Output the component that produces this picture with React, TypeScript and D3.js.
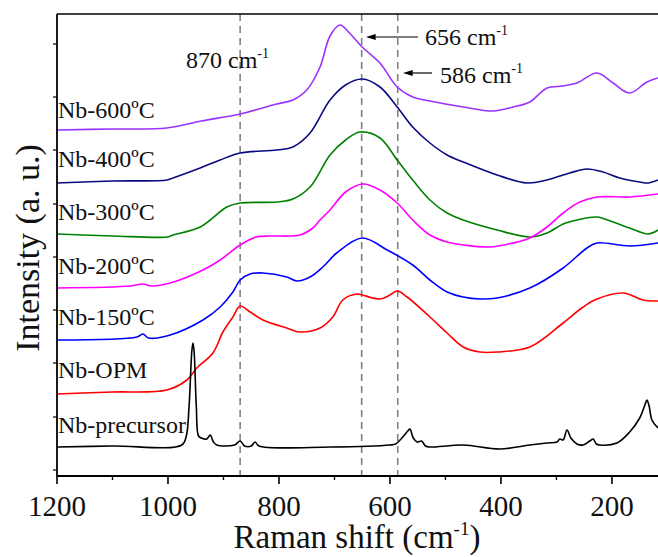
import { useEffect, useRef } from 'react';
import * as d3 from 'd3';

// Raman spectra: [shift (cm-1), intensity (a.u., offset stacked)]
const nb600 = [[1200,346],[1100,347],[1002,348],[940,355],[870,362],[804,372],[775,376],[750,386],[726,409],[708,440],[690,451],[673,443],[650,429],[618,413],[587,389],[559,379],[528,375],[468,369],[414,365],[378,369],[348,374],[317,388],[288,390],[263,393],[227,403],[198,393],[168,383],[137,394],[117,398]];
const nb400 = [[1200,293],[1100,295],[1002,296],[991,298],[942,308],[906,316],[870,323],[804,326],[775,329],[744,343],[708,376],[680,391],[650,397],[618,389],[587,369],[559,349],[528,333],[497,321],[468,314],[407,301],[353,293],[317,296],[276,303],[245,307],[216,304],[186,298],[150,294],[135,293],[117,296]];
const nb300 = [[1200,242],[1100,240],[1002,239],[991,241],[942,249],[894,269],[870,273],[804,274],[775,277],[744,289],[708,321],[680,336],[654,344],[618,338],[587,316],[559,296],[528,276],[497,263],[468,256],[407,246],[348,239],[317,243],[288,252],[263,256],[227,259],[198,254],[168,248],[135,242],[117,246]];
const nb200 = [[1200,188],[1068,190],[1045,192],[1030,190],[996,193],[937,206],[906,216],[870,231],[841,239],[816,240],[762,241],[739,248],[726,256],[708,266],[680,284],[649,292],[618,286],[587,273],[559,256],[528,241],[497,234],[468,231],[420,229],[378,233],[348,238],[317,249],[288,263],[258,274],[227,279],[168,279],[117,282]];
const nb150 = [[1200,136],[1056,139],[1045,142],[1035,138],[996,141],[937,156],[906,169],[883,184],[870,196],[852,202],[829,203],[786,199],[768,195],[744,199],[721,209],[696,223],[650,238],[605,226],[559,211],[528,196],[497,184],[468,179],[438,177],[407,178],[348,188],[288,208],[245,228],[227,233],[168,230],[117,233]];
const nbOPM = [[1200,82],[1100,84],[1002,86],[966,96],[948,108],[919,123],[901,144],[883,159],[870,170],[852,164],[829,156],[786,148],[762,144],[726,148],[703,159],[685,176],[659,182],[650,181],[618,177],[600,181],[587,185],[569,179],[528,159],[497,143],[468,129],[438,124],[407,124],[348,129],[288,153],[252,169],[227,177],[180,183],[144,176],[117,175]];
const nbPrecursor = [[1200,29],[1100,30],[975,31],[967,40],[962,70],[957,125],[955,133],[953,125],[949,70],[945,40],[940,38],[930,37],[924,41],[918,34],[912,31],[880,31],[870,35],[862,30],[850,30],[843,34],[836,30],[708,29],[600,31],[590,32],[577,39],[568,45],[564,47],[558,38],[551,34],[543,35],[536,30],[528,29],[468,31],[402,27],[348,31],[317,33],[299,34],[294,37],[288,36],[281,46],[274,38],[263,32],[252,31],[240,35],[234,37],[228,32],[222,31],[191,33],[168,44],[150,58],[140,72],[137,76],[133,70],[128,56],[117,48]];

const seriesNames = ['Nb-600ºC', 'Nb-400ºC', 'Nb-300ºC', 'Nb-200ºC', 'Nb-150ºC', 'Nb-OPM', 'Nb-precursor'];
const seriesData = [nb600, nb400, nb300, nb200, nb150, nbOPM, nbPrecursor];
const seriesColors = ['#9933ff', '#0a0a80', '#008000', '#ff00ff', '#0000ff', '#ff0000', '#000000'];
// label baselines, in intensity units
const labelLevels = [358, 309, 256, 202, 151, 98, 43];

const xTicks = [1200, 1000, 800, 600, 400, 200];
const xMinorTicks = [1100, 900, 700, 500, 300];
const yTicks = [6, 59, 113, 166, 219, 272, 326, 379, 432];

const markerLines = [870, 651, 586];
const markerLabels = ['870', '656', '586'];

const FONT = '"Liberation Serif", "Times New Roman", serif';

const App = () => {
    const svgRef = useRef(null);

    useEffect(() => {
        if (!svgRef.current) return;
        const width = 658, height = 557;
        const left = 57, top = 14, bottom = 476, right = 658;

        const svg = d3.select(svgRef.current)
            .attr('width', width)
            .attr('height', height);
        svg.selectAll('*').remove();

        const x = d3.scaleLinear().domain([1200, 117]).range([left, right]);
        const y = d3.scaleLinear().domain([0, 462]).range([bottom, top]);

        const defs = svg.append('defs');
        defs.append('clipPath').attr('id', 'plot-clip')
            .append('rect').attr('x', left).attr('y', top)
            .attr('width', right - left).attr('height', bottom - top);
        defs.append('marker')
            .attr('id', 'arrow')
            .attr('viewBox', '0 0 10 10')
            .attr('refX', 0).attr('refY', 5)
            .attr('markerWidth', 10).attr('markerHeight', 10)
            .attr('markerUnits', 'userSpaceOnUse')
            .attr('orient', 'auto-start-reverse')
            .append('path').attr('d', 'M0,2 L10,5 L0,8 Z').attr('fill', '#000');

        // dashed reference lines
        svg.append('g').selectAll('line')
            .data(markerLines)
            .join('line')
            .attr('x1', d => x(d)).attr('x2', d => x(d))
            .attr('y1', top).attr('y2', bottom)
            .attr('stroke', '#808080')
            .attr('stroke-width', 1.6)
            .attr('stroke-dasharray', '7,5');

        // spectra
        const line = d3.line()
            .x(d => x(d[0]))
            .y(d => y(d[1]))
            .curve(d3.curveCatmullRom.alpha(0.5));

        svg.append('g').attr('clip-path', 'url(#plot-clip)')
            .selectAll('path')
            .data(seriesData)
            .join('path')
            .attr('d', d => line(d))
            .attr('fill', 'none')
            .attr('stroke', (d, i) => seriesColors[i])
            .attr('stroke-width', 1.6);

        // series labels
        svg.append('g').selectAll('text')
            .data(seriesNames)
            .join('text')
            .attr('x', left + 1)
            .attr('y', (d, i) => y(labelLevels[i]))
            .attr('font-family', FONT)
            .attr('font-size', 24)
            .attr('fill', '#111')
            .text(d => d);

        // frame
        svg.append('line')
            .attr('x1', left).attr('x2', right).attr('y1', top).attr('y2', top)
            .attr('stroke', '#000').attr('stroke-width', 1.6);
        svg.append('line')
            .attr('x1', left).attr('x2', left).attr('y1', top).attr('y2', bottom)
            .attr('stroke', '#000').attr('stroke-width', 1.8);
        svg.append('line')
            .attr('x1', left).attr('x2', right).attr('y1', bottom).attr('y2', bottom)
            .attr('stroke', '#000').attr('stroke-width', 1.8);

        // x ticks
        const xAxis = svg.append('g');
        xAxis.selectAll('line.major')
            .data(xTicks)
            .join('line')
            .attr('class', 'major')
            .attr('x1', d => x(d)).attr('x2', d => x(d))
            .attr('y1', bottom).attr('y2', bottom + 8)
            .attr('stroke', '#000').attr('stroke-width', 1.6);
        xAxis.selectAll('line.minor')
            .data(xMinorTicks)
            .join('line')
            .attr('class', 'minor')
            .attr('x1', d => x(d)).attr('x2', d => x(d))
            .attr('y1', bottom).attr('y2', bottom + 4)
            .attr('stroke', '#000').attr('stroke-width', 1.4);
        xAxis.selectAll('text')
            .data(xTicks)
            .join('text')
            .attr('x', d => x(d))
            .attr('y', bottom + 40)
            .attr('text-anchor', 'middle')
            .attr('font-family', FONT)
            .attr('font-size', 29)
            .attr('fill', '#111')
            .text(d => d);

        // y ticks (no labels)
        svg.append('g').selectAll('line')
            .data(yTicks)
            .join('line')
            .attr('x1', left - 4).attr('x2', left)
            .attr('y1', d => y(d)).attr('y2', d => y(d))
            .attr('stroke', '#000').attr('stroke-width', 1.2);

        // axis titles
        const xt = svg.append('text')
            .attr('x', 357).attr('y', 548)
            .attr('text-anchor', 'middle')
            .attr('font-family', FONT)
            .attr('font-size', 33)
            .attr('fill', '#111');
        xt.append('tspan').text('Raman shift (cm');
        xt.append('tspan').attr('dy', -13).attr('font-size', 19).text('-1');
        xt.append('tspan').attr('dy', 13).text(')');

        svg.append('text')
            .attr('transform', `translate(39, 248) rotate(-90)`)
            .attr('text-anchor', 'middle')
            .attr('font-family', FONT)
            .attr('font-size', 34)
            .attr('fill', '#111')
            .text('Intensity (a. u.)');

        // peak annotations
        const annot = (label, tx, ty) => {
            const t = svg.append('text')
                .attr('x', tx).attr('y', ty)
                .attr('font-family', FONT)
                .attr('font-size', 24)
                .attr('fill', '#111');
            t.append('tspan').text(`${label} cm`);
            t.append('tspan').attr('dy', -10).attr('font-size', 14).text('-1');
        };
        annot(markerLabels[0], 186, 68);
        annot(markerLabels[1], 425, 45);
        annot(markerLabels[2], 440, 83);

        const arrows = [[418, 37, x(markerLines[1]) + 4], [432, 73, x(markerLines[2]) + 5]];
        svg.append('g').selectAll('line')
            .data(arrows)
            .join('line')
            .attr('x1', d => d[0]).attr('x2', d => d[2] + 10)
            .attr('y1', d => d[1]).attr('y2', d => d[1])
            .attr('stroke', '#000').attr('stroke-width', 1.2)
            .attr('marker-end', 'url(#arrow)');
    }, []);

    return (
        <div style={{ position: 'absolute', left: 0, top: 0, width: 658, height: 557, background: '#fff' }}>
            <svg ref={svgRef} style={{ display: 'block' }} />
        </div>
    );
};

export default App;
